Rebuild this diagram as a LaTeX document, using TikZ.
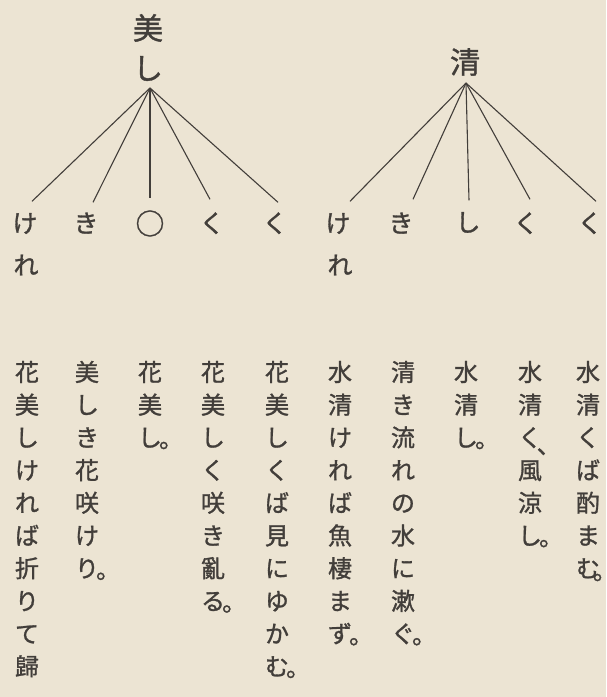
\documentclass[tikz,border=0pt]{standalone}
\usepackage{fontspec}
\newfontfamily\jp[FakeBold=1.2]{Noto Sans CJK JP}
\definecolor{paper}{RGB}{236,228,211}
\definecolor{ink}{RGB}{66,62,58}
\tikzset{
  vchar/.style={font=\jp\fontsize{24}{24}\selectfont, text=ink, inner sep=0pt,
    text height=21.1pt, text depth=2.9pt, anchor=center},
  head/.style={font=\jp\fontsize{30}{30}\selectfont, text=ink, inner sep=0pt,
    text height=26.4pt, text depth=3.6pt, anchor=center},
  lab/.style={font=\jp\fontsize{25}{25}\selectfont, text=ink, inner sep=0pt,
    text height=22pt, text depth=3pt, anchor=center},
  branch/.style={draw=ink, line width=1.1pt},
}
\newcommand\kuten{\rlap{\kern-0.12em\raisebox{-0.05em}{。}}}
\newcommand\kutenedge{\rlap{\kern-0.3em\raisebox{-0.1em}{。}}}
\newcommand\touten{\rlap{\kern-0.22em\raisebox{-0.3em}{、}}}
\newcommand\vcolumn[3]{\foreach \ch [count=\i from 0] in {#3}{\node[vchar] (#1-\i) at (#2,{372+32.7*\i}) {\ch};}}
\begin{document}
\begin{tikzpicture}[x=1pt,y=-1pt]
\fill[paper] (0,0) rectangle (606,697);
\useasboundingbox (0,0) rectangle (606,697);
% tree 1
\node[head] (h1a) at (148,28) {美};
\node[head] (h1b) at (148,68) {し};
\coordinate (r1) at (150,88);
\node[lab] (a1) at (25,223) {け};
\node[lab] (a1b) at (26,265) {れ};
\node[lab] (a2) at (86,223) {き};
\node[lab,font=\jp\fontsize{29}{29}\selectfont] (a3) at (150,225) {○};
\node[lab] (a4) at (212,223) {く};
\node[lab] (a5) at (275,223) {く};
\draw[branch] (r1) -- ([xshift=7pt,yshift=9pt]a1.north);
\draw[branch] (r1) -- ([xshift=7pt,yshift=8pt]a2.north);
\draw[branch] (r1) -- ([yshift=14pt]a3.north);
\draw[branch] (r1) -- ([xshift=-2pt,yshift=11pt]a4.north);
\draw[branch] (r1) -- ([xshift=3pt,yshift=8pt]a5.north);
% tree 2
\node[head] (h2) at (465,62) {清};
\coordinate (r2) at (466,83);
\node[lab] (b1) at (338,223) {け};
\node[lab] (b1b) at (340,265) {れ};
\node[lab] (b2) at (401,223) {き};
\node[lab] (b3) at (468,222) {し};
\node[lab] (b4) at (526,223) {く};
\node[lab] (b5) at (590,223) {く};
\draw[branch] (r2) -- ([xshift=12pt,yshift=9pt]b1.north);
\draw[branch] (r2) -- ([xshift=12pt,yshift=11pt]b2.north);
\draw[branch] (r2) -- ([xshift=1pt,yshift=9pt]b3.north);
\draw[branch] (r2) -- ([xshift=4pt,yshift=11pt]b4.north);
\draw[branch] (r2) -- ([xshift=6pt,yshift=9pt]b5.north);
% text columns, right to left
\vcolumn{c1}{588}{水,清,く,ば,酌,ま,む\kutenedge}
\vcolumn{c2}{530}{水,清,く\touten,風,涼,し\kuten}
\vcolumn{c3}{466}{水,清,し\kuten}
\vcolumn{c4}{403}{清,き,流,れ,の,水,に,漱,ぐ\kuten}
\vcolumn{c5}{340}{水,清,け,れ,ば,魚,棲,ま,ず\kuten}
\vcolumn{c6}{277}{花,美,し,く,ば,見,に,ゆ,か,む\kuten}
\vcolumn{c7}{213}{花,美,し,く,咲,き,亂,る\kuten}
\vcolumn{c8}{150}{花,美,し\kuten}
\vcolumn{c9}{87}{美,し,き,花,咲,け,り\kuten}
\vcolumn{c10}{27}{花,美,し,け,れ,ば,折,り,て,歸}
\end{tikzpicture}
\end{document}
